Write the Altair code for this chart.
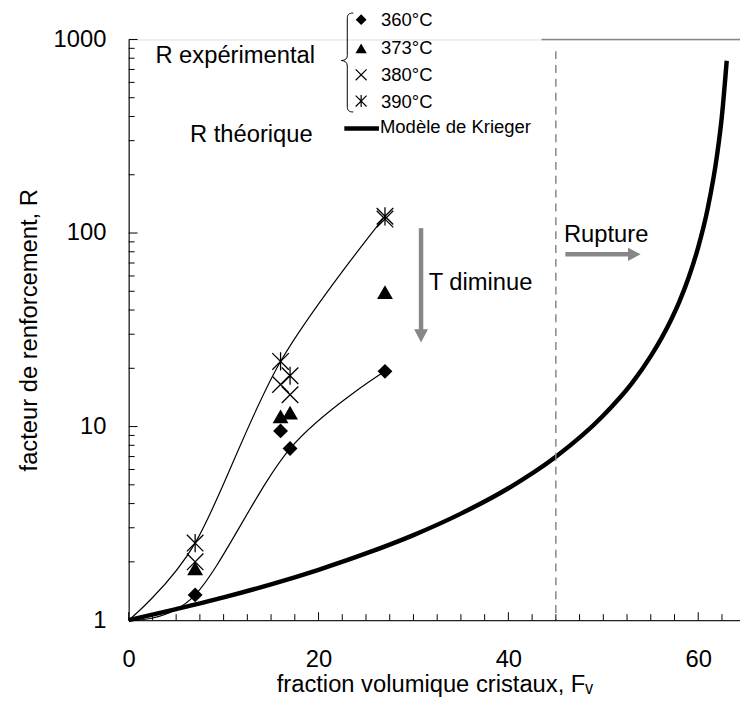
import altair as alt
import pandas as pd

# ---------------- data ----------------
fv_exp = [7, 16, 17, 27]
r_360 = [1.35, 9.5, 7.7, 19.3]
r_373 = [1.85, 11.3, 11.8, 49.5]
r_380 = [2.0, 16.5, 14.6, 118]
r_390 = [2.5, 21.7, 18.3, 122]

fit_high_x = [0, 7, 16, 27]
fit_high_r = [1, 2.5, 21.7, 122]
fit_low_x = [0, 7, 17, 27]
fit_low_r = [1, 1.35, 7.7, 19.3]

krieger_x = [0, 5, 10, 15, 20, 25, 30, 35, 40, 45, 50, 53, 55, 57, 58, 59, 60, 61, 62, 62.5, 63]
krieger_r = [1, 1.14, 1.31, 1.53, 1.82, 2.21, 2.75, 3.55, 4.80, 6.98, 11.4, 16.7, 23.1, 34.5,
             44.1, 59.1, 84.5, 134, 256, 405, 776]

x_major = [0, 20, 40, 60]
x_minor = [2.5, 5, 7.5, 10, 12.5, 15, 17.5, 22.5, 25, 27.5, 30, 32.5, 35, 37.5,
           42.5, 45, 47.5, 50, 52.5, 55, 57.5, 62.5]
y_major = [1, 10, 100, 1000]
y_minor = [2, 3, 4, 5, 6, 7, 8, 9, 20, 30, 40, 50, 60, 70, 80, 90,
           200, 300, 400, 500, 600, 700, 800, 900]

rupture_x = 45
legend_labels = ["360°C", "373°C", "380°C", "390°C"]

# ---------------- styling ----------------
W, H = 618, 587
FONT = "Liberation Sans"
GRAY = "#878787"
XS = alt.Scale(domain=[0, 64.4], nice=False, zero=False)
YS = alt.Scale(type="log", domain=[1, 1000], nice=False)

AX = alt.Axis(
    values=x_major, tickSize=0, labelPadding=28, labelFontSize=24, labelColor="black",
    labelFlush=False, domainColor="#222222", domainWidth=1.3, grid=False,
    title="fraction volumique cristaux, Fᵥ", titleFontSize=24, titleFontWeight="normal",
    titleColor="black", titleBaseline="alphabetic", titleY=72)
AY = alt.Axis(
    values=y_major, format="d", tickSize=0, labelPadding=23, labelFontSize=24,
    labelColor="black", domainColor="#222222", domainWidth=1.3, grid=False,
    title="facteur de renforcement, R", titleFontSize=24, titleFontWeight="normal",
    titleColor="black", titleAngle=270, titleX=-100, titleY=H / 2,
    titleBaseline="middle", titleAlign="center")

X_PATH = "M-1,-1L1,1M-1,1L1,-1"
STAR_PATH = "M-1,-1L1,1M-1,1L1,-1M0,-1.1L0,1.1"
BRACE_PATH = ("M0.12,-1 C0.03,-1 0,-0.97 0,-0.88 L0,-0.14 C0,-0.07 -0.05,-0.04 -0.12,-0.04 "
              "C-0.05,-0.04 0,0 0,0.07 L0,0.88 C0,0.97 0.03,1 0.12,1")
HEAD_DOWN = "M-1,-1L1,-1L0,0.9Z"
HEAD_RIGHT = "M-1,-1L-1,1L0.9,0Z"


def xq(f):
    return alt.X(f, type="quantitative", scale=XS, axis=AX)


def yq(f):
    return alt.Y(f, type="quantitative", scale=YS, axis=AY)


# Krieger model
krieger = alt.Chart(pd.DataFrame({"x": krieger_x, "r": krieger_r})).mark_line(
    color="black", strokeWidth=4.5, interpolate="monotone"
).encode(x=xq("x"), y=yq("r"), order="x:Q")

fit_hi = alt.Chart(pd.DataFrame({"x": fit_high_x, "r": fit_high_r})).mark_line(
    color="black", strokeWidth=1.2, interpolate="cardinal").encode(x=xq("x"), y=yq("r"), order="x:Q")
fit_lo = alt.Chart(pd.DataFrame({"x": fit_low_x, "r": fit_low_r})).mark_line(
    color="black", strokeWidth=1.2, interpolate="cardinal").encode(x=xq("x"), y=yq("r"), order="x:Q")

exp = pd.DataFrame({"x": fv_exp, "r360": r_360, "r373": r_373, "r380": r_380, "r390": r_390})
base_exp = alt.Chart(exp)
p360 = base_exp.mark_point(shape="diamond", filled=True, color="black", size=225, opacity=1).encode(
    x=xq("x"), y=yq("r360"))
p373 = base_exp.mark_point(shape="triangle-up", filled=True, color="black", size=256, opacity=1).encode(
    x=xq("x"), y=yq("r373"))
p380 = base_exp.mark_point(shape=X_PATH, filled=False, color="black", size=280, strokeWidth=1.3,
                           opacity=1).encode(x=xq("x"), y=yq("r380"))
p390 = base_exp.mark_point(shape=STAR_PATH, filled=False, color="black", size=280, strokeWidth=1.3,
                           opacity=1).encode(x=xq("x"), y=yq("r390"))

# inward ticks
xt_major = alt.Chart(pd.DataFrame({"t": x_major})).mark_rule(color="black", strokeWidth=1).encode(
    x=xq("t"), y=alt.value(H), y2=alt.value(H - 8))
xt_minor = alt.Chart(pd.DataFrame({"t": x_minor})).mark_rule(color="black", strokeWidth=1).encode(
    x=xq("t"), y=alt.value(H), y2=alt.value(H - 6))
yt_major = alt.Chart(pd.DataFrame({"t": y_major})).mark_rule(color="black", strokeWidth=1).encode(
    y=yq("t"), x=alt.value(0), x2=alt.value(9))
yt_minor = alt.Chart(pd.DataFrame({"t": y_minor})).mark_rule(color="black", strokeWidth=1).encode(
    y=yq("t"), x=alt.value(0), x2=alt.value(6))

# top border (partly hidden by the legend box) and rupture line
top_line = alt.Chart(pd.DataFrame({"x": [43.5], "x2": [64.4], "r": [1000]})).mark_rule(
    color=GRAY, strokeWidth=1.5).encode(x=xq("x"), x2="x2:Q", y=yq("r"))
dash = alt.Chart(pd.DataFrame({"x": [rupture_x], "r": [870], "r2": [1]})).mark_rule(
    color=GRAY, strokeWidth=1.5, strokeDash=[8, 6]).encode(x=xq("x"), y=yq("r"), y2="r2:Q")

# arrows
t_shaft = alt.Chart(pd.DataFrame({"x": [30.8], "r": [106], "r2": [29.3]})).mark_rule(
    color=GRAY, strokeWidth=4.5).encode(x=xq("x"), y=yq("r"), y2="r2:Q")
t_head = alt.Chart(pd.DataFrame({"x": [30.8], "r": [29.3]})).mark_point(
    shape=HEAD_DOWN, filled=True, color=GRAY, size=196, opacity=1).encode(x=xq("x"), y=yq("r"))
r_shaft = alt.Chart(pd.DataFrame({"x": [46.0], "x2": [53.3], "r": [77.6]})).mark_rule(
    color=GRAY, strokeWidth=4.5).encode(x=xq("x"), x2="x2:Q", y=yq("r"))
r_head = alt.Chart(pd.DataFrame({"x": [53.3], "r": [77.6]})).mark_point(
    shape=HEAD_RIGHT, filled=True, color=GRAY, size=180, opacity=1).encode(x=xq("x"), y=yq("r"))

ann = pd.DataFrame({"x": [31.6, 45.85], "r": [51, 90.1], "t": ["T diminue", "Rupture"]})
ann_text = alt.Chart(ann).mark_text(font=FONT, fontSize=24, align="left", baseline="alphabetic",
                                    color="black").encode(x=xq("x"), y=yq("r"), text="t:N")

# legend (pixel placed)
leg_y = [-20, 9, 35.7, 62.3]
leg_lab_y = [-13.3, 14.7, 42.3, 69]
leg_parts = []
for shp, filled, sz, yy in [("diamond", True, 121, leg_y[0]), ("triangle-up", True, 130, leg_y[1]),
                            (X_PATH, False, 121, leg_y[2]), (STAR_PATH, False, 121, leg_y[3])]:
    leg_parts.append(alt.Chart(pd.DataFrame({"a": [0]})).mark_point(
        shape=shp, filled=filled, color="black", size=sz, strokeWidth=1.2, opacity=1).encode(
        x=alt.value(235), y=alt.value(yy)))
for lab, yy in zip(legend_labels, leg_lab_y):
    leg_parts.append(alt.Chart(pd.DataFrame({"a": [0]})).mark_text(
        text=lab, font=FONT, fontSize=18.7, align="left", baseline="alphabetic", color="black").encode(
        x=alt.value(255), y=alt.value(yy)))
leg_parts.append(alt.Chart(pd.DataFrame({"a": [0]})).mark_point(
    shape=BRACE_PATH, filled=False, color="black", size=10000, strokeWidth=1, opacity=1).encode(
    x=alt.value(221), y=alt.value(23.3)))
leg_parts.append(alt.Chart(pd.DataFrame({"a": [0]})).mark_text(
    text="R expérimental", font=FONT, fontSize=24, align="left", baseline="alphabetic",
    color="black").encode(x=alt.value(27), y=alt.value(24)))
leg_parts.append(alt.Chart(pd.DataFrame({"a": [0]})).mark_text(
    text="R théorique", font=FONT, fontSize=24, align="left", baseline="alphabetic",
    color="black").encode(x=alt.value(62), y=alt.value(104)))
leg_parts.append(alt.Chart(pd.DataFrame({"a": [0]})).mark_rule(color="black", strokeWidth=4.5).encode(
    x=alt.value(218), x2=alt.value(253), y=alt.value(90)))
leg_parts.append(alt.Chart(pd.DataFrame({"a": [0]})).mark_text(
    text="Modèle de Krieger", font=FONT, fontSize=18.7, align="left", baseline="alphabetic",
    color="black").encode(x=alt.value(254), y=alt.value(95)))

chart = alt.layer(
    krieger, top_line, dash, fit_hi, fit_lo, p360, p373, p380, p390,
    xt_major, xt_minor, yt_major, yt_minor,
    t_shaft, t_head, r_shaft, r_head, ann_text, *leg_parts
).properties(
    width=W, height=H,
    padding={"left": 122, "top": 28, "right": 0, "bottom": 82},
    autosize=alt.AutoSizeParams(type="none"),
    background="white",
).configure_view(stroke=None).configure(font=FONT)

chart.save("out.html", embed_options={"renderer": "svg", "actions": False})
